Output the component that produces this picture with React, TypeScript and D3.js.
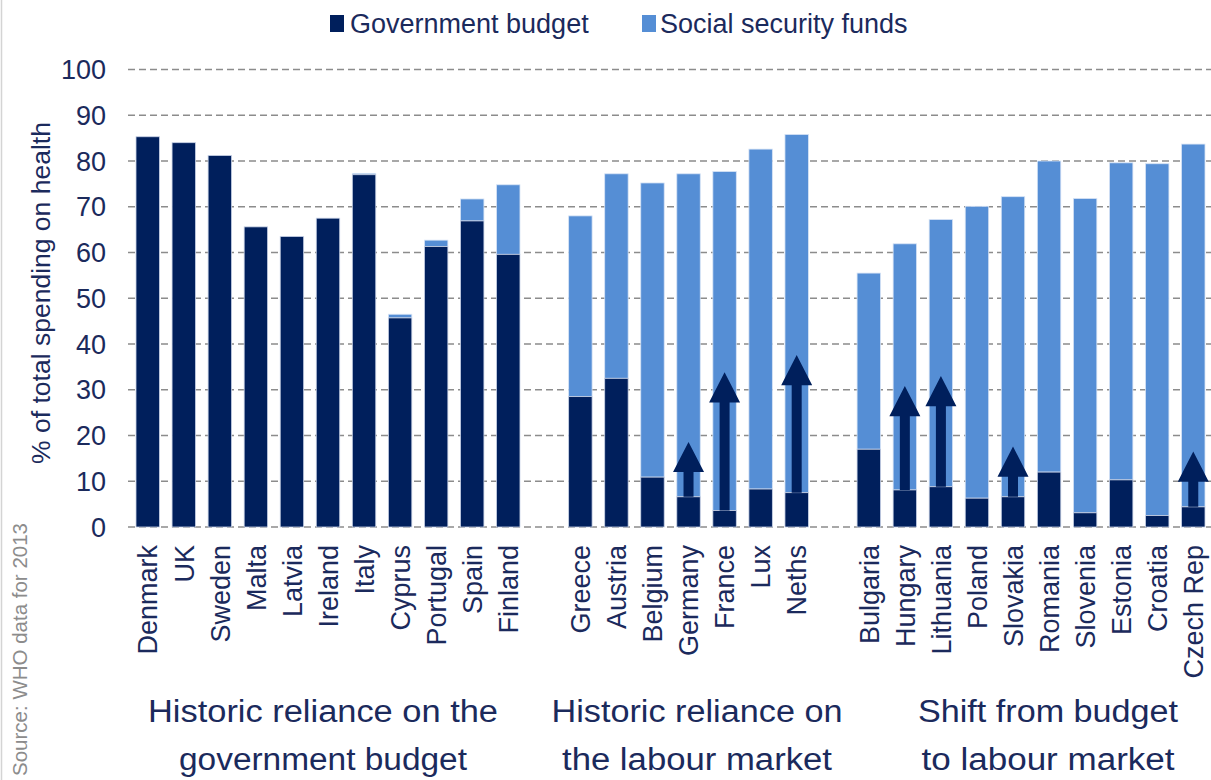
import React from "react";
import * as d3 from "d3";

// ---------- data ----------
const group1 = ["Denmark", "UK", "Sweden", "Malta", "Latvia", "Ireland", "Italy", "Cyprus", "Portugal", "Spain", "Finland"];
const group2 = ["Greece", "Austria", "Belgium", "Germany", "France", "Lux", "Neths"];
const group3 = ["Bulgaria", "Hungary", "Lithuania", "Poland", "Slovakia", "Romania", "Slovenia", "Estonia", "Croatia", "Czech Rep"];

const countries = [...group1, ...group2, ...group3];
const governmentBudget = [
  85.3, 84.0, 81.2, 65.6, 63.5, 67.5, 77.0, 45.7, 61.3, 66.9, 59.6,
  28.5, 32.5, 10.9, 6.6, 3.6, 8.3, 7.5,
  17.0, 8.1, 8.8, 6.3, 6.6, 12.0, 3.1, 10.3, 2.5, 4.4,
];
const socialSecurity = [
  0, 0, 0, 0, 0, 0, 0.3, 0.8, 1.4, 4.8, 15.2,
  39.5, 44.7, 64.3, 70.6, 74.1, 74.3, 78.3,
  38.5, 53.8, 58.4, 63.8, 65.6, 68.0, 68.7, 69.3, 76.9, 79.3,
];

const arrowCountries = ["Germany", "France", "Neths", "Hungary", "Lithuania", "Slovakia", "Czech Rep"];
const arrowTips = [18.6, 33.8, 37.6, 30.8, 33.0, 17.6, 16.5];

const yTicks = [0, 10, 20, 30, 40, 50, 60, 70, 80, 90, 100];

const groupLabels = [
  ["Historic reliance on the", "government budget"],
  ["Historic reliance on", "the labour market"],
  ["Shift from budget", "to labour market"],
];

const seriesNames = ["Government budget", "Social security funds"];

// ---------- style ----------
const DARK = "#001f5c";
const LIGHT = "#558ed5";
const TEXT = "#1b2a5c";
const FONT = "'Liberation Sans', Arial, Helvetica, sans-serif";

export default function App() {
  const W = 1211;
  const H = 780;
  const slots = [...group1, "__gap1", ...group2, "__gap2", ...group3];

  const x = d3
    .scaleBand<string>()
    .domain(slots)
    .range([129.7, 1211.3])
    .paddingInner(0.35)
    .paddingOuter(0.175);
  const y = d3.scaleLinear().domain([0, 100]).range([527, 69.5]);
  const bw = x.bandwidth();

  const headH = 6.6; // arrow head height in data units
  const headW = 31;
  const shaftW = 10;

  const groupCenters = [323, 697, 1048];
  const groupLens = [
    [350, 288],
    [291, 270],
    [260, 253],
  ];

  return (
    <div style={{ position: "absolute", left: 0, top: 0, width: W, height: H, background: "#fff" }}>
      <svg width={W} height={H} style={{ display: "block", fontFamily: FONT }}>
        <rect x={0} y={0} width={W} height={H} fill="#fff" />
        <line x1={1.5} x2={1.5} y1={0} y2={H} stroke="#d4d4d4" strokeWidth={1.5} />

        {/* gridlines */}
        {yTicks.map((t) => (
          <line
            key={"g" + t}
            x1={128}
            x2={1211}
            y1={y(t)}
            y2={y(t)}
            stroke="#8c8c8c"
            strokeWidth={1.3}
            strokeDasharray="7,4"
          />
        ))}

        {/* y tick labels */}
        {yTicks.map((t) => (
          <text
            key={"t" + t}
            x={106}
            y={y(t)}
            dy="0.36em"
            textAnchor="end"
            fontSize={27}
            fill={TEXT}
          >
            {t}
          </text>
        ))}

        {/* y axis title */}
        <text
          transform={`translate(40,${293}) rotate(-90)`}
          textAnchor="middle"
          dy="0.36em"
          fontSize={26.5}
          fill={TEXT}
        >
          % of total spending on health
        </text>

        {/* source */}
        <text
          transform={`translate(20,523) rotate(-90)`}
          textAnchor="end"
          dy="0.36em"
          fontSize={20.5}
          fill="#8c8c8c"
        >
          Source: WHO data for 2013
        </text>

        {/* bars */}
        {countries.map((c, i) => {
          const g = governmentBudget[i];
          const s = socialSecurity[i];
          const x0 = x(c) as number;
          return (
            <g key={c}>
              {s > 0 && (
                <rect
                  x={x0}
                  y={y(g + s)}
                  width={bw}
                  height={y(g) - y(g + s)}
                  fill={LIGHT}
                  stroke="#d6e3f5"
                  strokeWidth={0.8}
                />
              )}
              <rect
                x={x0}
                y={y(g)}
                width={bw}
                height={y(0) - y(g)}
                fill={DARK}
                stroke="#c8d2e6"
                strokeWidth={0.8}
              />
            </g>
          );
        })}

        {/* arrows */}
        {arrowCountries.map((c, i) => {
          const idx = countries.indexOf(c);
          const cx = (x(c) as number) + bw / 2;
          const tip = y(arrowTips[i]);
          const base = y(arrowTips[i] - headH);
          const bottom = y(governmentBudget[idx]);
          const path = d3.path();
          path.moveTo(cx - shaftW / 2, bottom);
          path.lineTo(cx - shaftW / 2, base);
          path.lineTo(cx - headW / 2, base);
          path.lineTo(cx, tip);
          path.lineTo(cx + headW / 2, base);
          path.lineTo(cx + shaftW / 2, base);
          path.lineTo(cx + shaftW / 2, bottom);
          path.closePath();
          return <path key={"a" + c} d={path.toString()} fill={DARK} />;
        })}

        {/* x labels */}
        {countries.map((c) => {
          const cx = (x(c) as number) + bw / 2;
          return (
            <text
              key={"l" + c}
              transform={`translate(${cx},545) rotate(-90)`}
              textAnchor="end"
              dy="0.36em"
              fontSize={27}
              fill={TEXT}
            >
              {c}
            </text>
          );
        })}

        {/* group labels */}
        {groupLabels.map((lines, gi) =>
          lines.map((ln, li) => (
            <text
              key={"gl" + gi + li}
              x={groupCenters[gi]}
              y={li === 0 ? 722 : 770}
              textAnchor="middle"
              fontSize={31}
              textLength={groupLens[gi][li]}
              lengthAdjust="spacingAndGlyphs"
              fill={TEXT}
            >
              {ln}
            </text>
          ))
        )}

        {/* legend */}
        <rect x={330} y={15} width={14} height={17} fill={DARK} />
        <text x={350} y={33} fontSize={27} fill={TEXT}>
          {seriesNames[0]}
        </text>
        <rect x={642} y={15} width={14} height={17} fill={LIGHT} />
        <text x={660} y={33} fontSize={27} fill={TEXT}>
          {seriesNames[1]}
        </text>
      </svg>
    </div>
  );
}
